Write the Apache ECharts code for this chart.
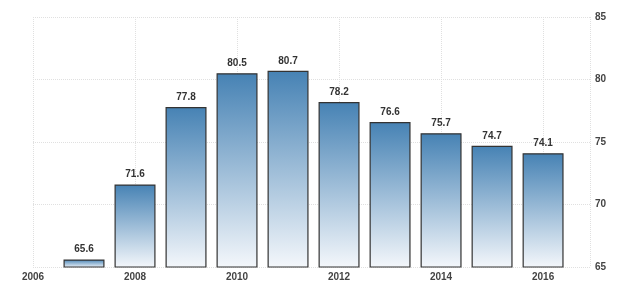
<!DOCTYPE html>
<html><head><meta charset="utf-8">
<script src="https://cdn.jsdelivr.net/npm/echarts@6/dist/echarts.min.js"></script>
<style>html,body{margin:0;padding:0;background:#fff}#c{width:640px;height:298px}</style>
</head><body><div id="c"></div>
<script>
var years = [2007, 2008, 2009, 2010, 2011, 2012, 2013, 2014, 2015, 2016];
var values = [65.6, 71.6, 77.8, 80.5, 80.7, 78.2, 76.6, 75.7, 74.7, 74.1];
var yTicks = [65, 70, 75, 80, 85];

var chart = echarts.init(document.getElementById('c'), null, {renderer: 'canvas'});
chart.setOption({
  animation: false,
  grid: {left: 33, right: 50, top: 17, bottom: 31},
  xAxis: {
    type: 'value', min: 2006, max: 2016.92, interval: 2,
    axisLine: {show: false}, axisTick: {show: false},
    axisLabel: {
      color: '#444', fontSize: 10, fontWeight: 'bold', fontFamily: 'Liberation Sans', margin: 5,
      formatter: function (v) { return (v % 2 === 0 && v <= 2016) ? String(v) : ''; }
    },
    splitLine: {show: true, lineStyle: {color: '#e0e0e0', type: 'dotted', width: 1}}
  },
  yAxis: {
    type: 'value', position: 'right', min: yTicks[0], max: yTicks[yTicks.length - 1], interval: 5,
    axisLine: {show: false}, axisTick: {show: false},
    axisLabel: {color: '#444', fontSize: 10, fontWeight: 'bold', fontFamily: 'Liberation Sans', margin: 5},
    splitLine: {show: true, lineStyle: {color: '#e0e0e0', type: 'dotted', width: 1}}
  },
  series: [{
    type: 'bar',
    barWidth: 41,
    data: years.map(function (y, i) { return [y, values[i]]; }),
    itemStyle: {
      borderColor: '#333', borderWidth: 1.2,
      color: new echarts.graphic.LinearGradient(0, 0, 0, 1, [
        {offset: 0, color: '#4682b4'},
        {offset: 1, color: '#f4f7fb'}
      ])
    },
    label: {
      show: true, position: 'top', distance: 5,
      color: '#333', fontSize: 10, fontWeight: 'bold', fontFamily: 'Liberation Sans',
      formatter: function (p) { return p.value[1].toFixed(1); }
    }
  }]
});
</script></body></html>
